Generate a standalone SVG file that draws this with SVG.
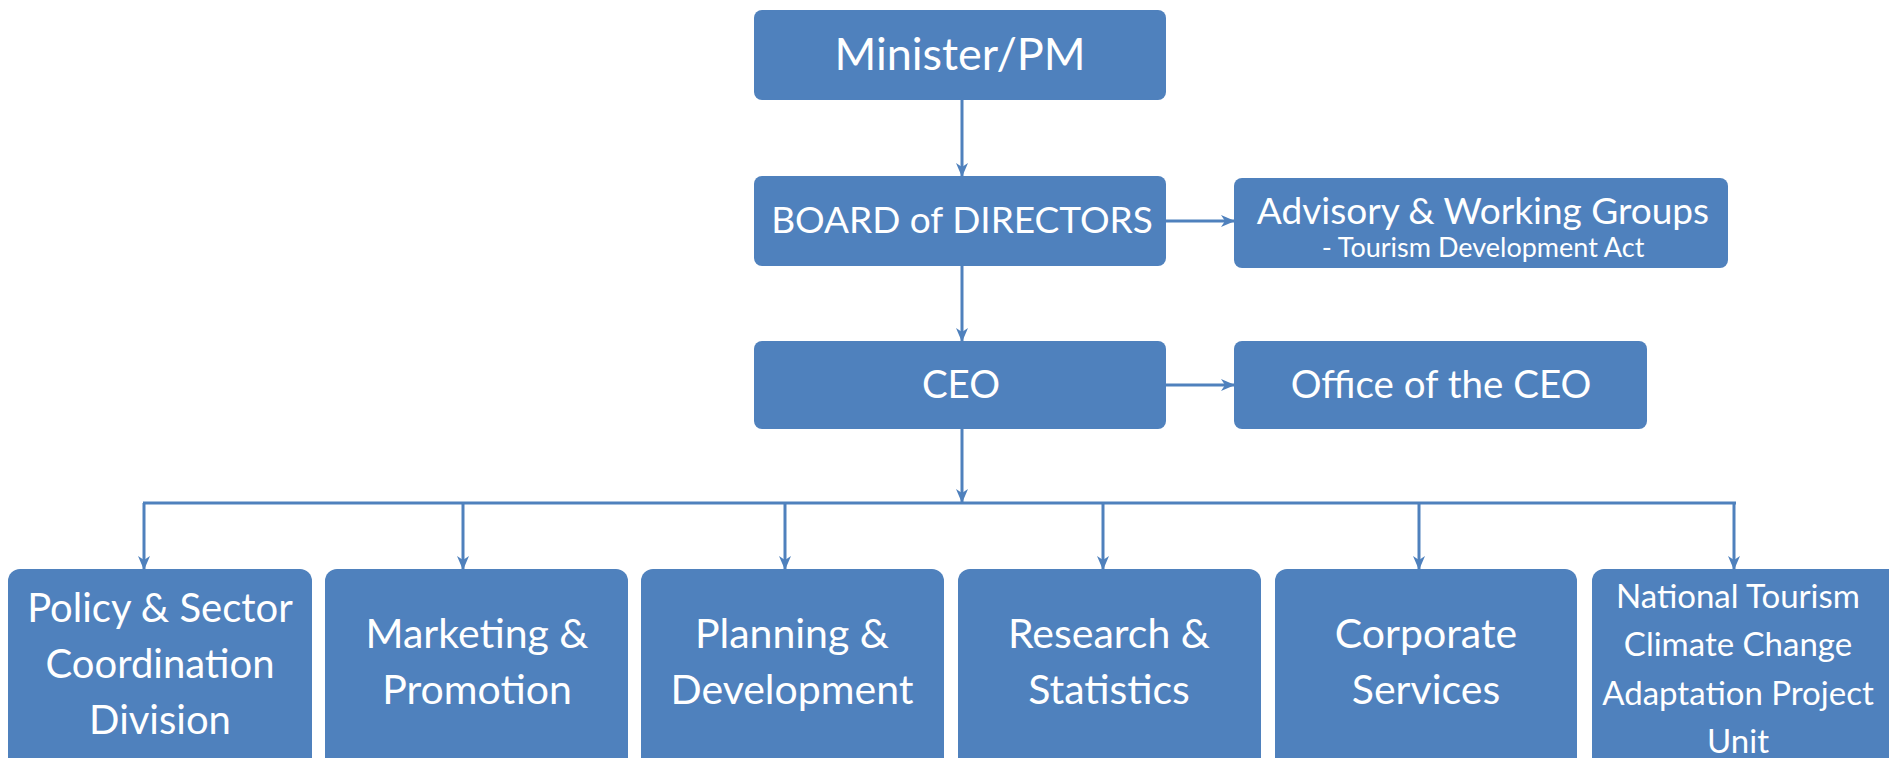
<svg xmlns="http://www.w3.org/2000/svg" width="1889" height="758" viewBox="0 0 1889 758">
<defs>
<marker id="ah" markerWidth="14" markerHeight="14" viewBox="0 0 14 14" refX="13" refY="7" orient="auto" markerUnits="userSpaceOnUse">
<path d="M0,1 L14,7 L0,13 L4,7 z" fill="#4F81BD"/>
</marker>
<style>
.box{fill:#4F81BD;}
.t{fill:#fff;font-family:Lato,"Open Sans","Liberation Sans",sans-serif;text-anchor:middle;}
.c{stroke:#4F81BD;stroke-width:3;fill:none;}
.a{marker-end:url(#ah);}
</style>
</defs>
<rect width="1889" height="758" fill="#fff"/>
<g id="connectors">
<line class="c a" x1="962" y1="100" x2="962" y2="176"/>
<line class="c a" x1="1166" y1="221" x2="1234" y2="221"/>
<line class="c a" x1="962" y1="266" x2="962" y2="341"/>
<line class="c a" x1="1166" y1="385" x2="1234" y2="385"/>
<line class="c a" x1="962" y1="429" x2="962" y2="502"/>
<line class="c" x1="143" y1="503" x2="1736" y2="503"/>
<line class="c a" x1="144" y1="503" x2="144" y2="569"/>
<line class="c a" x1="463" y1="503" x2="463" y2="569"/>
<line class="c a" x1="785" y1="503" x2="785" y2="569"/>
<line class="c a" x1="1103" y1="503" x2="1103" y2="569"/>
<line class="c a" x1="1419" y1="503" x2="1419" y2="569"/>
<line class="c a" x1="1734" y1="503" x2="1734" y2="569"/>
</g>
<g id="minister">
<rect class="box" x="754" y="10" width="412" height="90" rx="8"/>
<text class="t" x="960" y="70" font-size="45">Minister/PM</text>
</g>
<g id="board">
<rect class="box" x="754" y="176" width="412" height="90" rx="8"/>
<text class="t" x="962" y="233" font-size="37">BOARD of DIRECTORS</text>
</g>
<g id="advisory">
<rect class="box" x="1234" y="178" width="494" height="90" rx="8"/>
<text class="t" x="1483" y="224" font-size="37">Advisory &amp; Working Groups</text>
<text class="t" x="1483" y="257" font-size="27">- Tourism Development Act</text>
</g>
<g id="ceo">
<rect class="box" x="754" y="341" width="412" height="88" rx="8"/>
<text class="t" x="961" y="398" font-size="38.5">CEO</text>
</g>
<g id="office">
<rect class="box" x="1234" y="341" width="413" height="88" rx="8"/>
<text class="t" x="1441" y="398" font-size="38.5">Office of the CEO</text>
</g>
<g id="policy">
<rect class="box" x="8" y="569" width="304" height="200" rx="12"/>
<text class="t" x="160" font-size="40"><tspan x="160" y="622">Policy &amp; Sector</tspan><tspan x="160" y="678">Coordination</tspan><tspan x="160" y="734">Division</tspan></text>
</g>
<g id="marketing">
<rect class="box" x="325" y="569" width="303" height="200" rx="12"/>
<text class="t" x="477" font-size="41"><tspan x="477" y="648">Marketing &amp;</tspan><tspan x="477" y="704">Promotion</tspan></text>
</g>
<g id="planning">
<rect class="box" x="641" y="569" width="303" height="200" rx="12"/>
<text class="t" x="792" font-size="41"><tspan x="792" y="648">Planning &amp;</tspan><tspan x="792" y="704">Development</tspan></text>
</g>
<g id="research">
<rect class="box" x="958" y="569" width="303" height="200" rx="12"/>
<text class="t" x="1109" font-size="41"><tspan x="1109" y="648">Research &amp;</tspan><tspan x="1109" y="704">Statistics</tspan></text>
</g>
<g id="corporate">
<rect class="box" x="1275" y="569" width="302" height="200" rx="12"/>
<text class="t" x="1426" font-size="41"><tspan x="1426" y="648">Corporate</tspan><tspan x="1426" y="704">Services</tspan></text>
</g>
<g id="national">
<rect class="box" x="1592" y="569" width="310" height="200" rx="12"/>
<text class="t" x="1738" font-size="33"><tspan x="1738" y="608">National Tourism</tspan><tspan x="1738" y="656">Climate Change</tspan><tspan x="1738" y="705">Adaptation Project</tspan><tspan x="1738" y="753">Unit</tspan></text>
</g>
</svg>
